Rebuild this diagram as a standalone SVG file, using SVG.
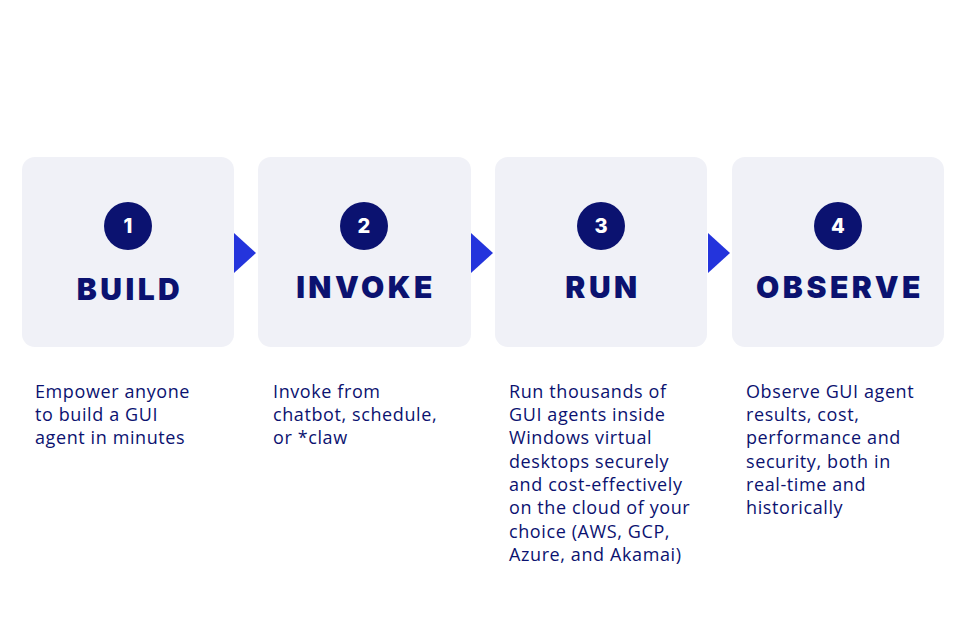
<svg xmlns="http://www.w3.org/2000/svg" width="968" height="643" viewBox="0 0 968 643">
<style>
.box{fill:#f0f1f7}
.num{fill:#0b1270}
.numt{font-family:Inter,"Open Sans",sans-serif;font-weight:800;font-size:20px;fill:#ffffff;text-anchor:middle}
.title{font-family:Inter,"Open Sans",sans-serif;font-weight:900;font-size:30px;fill:#0b1270;text-anchor:middle;letter-spacing:3.5px}
.desc{font-family:"Open Sans","Noto Sans",sans-serif;font-size:18px;fill:#0b1270;letter-spacing:0.6px}
.arrow{fill:#2434dc}
</style>
<rect width="968" height="643" fill="#ffffff"/>
<g id="connectors">
<polygon class="arrow" points="234,233 256,253 234,273"/>
<polygon class="arrow" points="471,233 493,253 471,273"/>
<polygon class="arrow" points="708,233 730,253 708,273"/>
</g>
<g id="build">
<rect class="box" x="22" y="157" width="212" height="190" rx="13"/>
<circle class="num" cx="128" cy="226" r="24"/>
<text class="numt" x="128" y="233">1</text>
<text class="title" x="130" y="300">BUILD</text>
<text class="desc"><tspan x="35" y="398">Empower anyone</tspan><tspan x="35" y="421">to build a GUI</tspan><tspan x="35" y="444">agent in minutes</tspan></text>
</g>
<g id="invoke">
<rect class="box" x="258" y="157" width="213" height="190" rx="13"/>
<circle class="num" cx="364" cy="226" r="24"/>
<text class="numt" x="364" y="233">2</text>
<text class="title" x="366" y="298">INVOKE</text>
<text class="desc"><tspan x="273" y="398">Invoke from</tspan><tspan x="273" y="421">chatbot, schedule,</tspan><tspan x="273" y="444">or *claw</tspan></text>
</g>
<g id="run">
<rect class="box" x="495" y="157" width="212" height="190" rx="13"/>
<circle class="num" cx="601" cy="226" r="24"/>
<text class="numt" x="601" y="233">3</text>
<text class="title" x="603" y="298">RUN</text>
<text class="desc"><tspan x="509" y="398">Run thousands of</tspan><tspan x="509" y="421">GUI agents inside</tspan><tspan x="509" y="444">Windows virtual</tspan><tspan x="509" y="468">desktops securely</tspan><tspan x="509" y="491">and cost-effectively</tspan><tspan x="509" y="514">on the cloud of your</tspan><tspan x="509" y="538">choice (AWS, GCP,</tspan><tspan x="509" y="561">Azure, and Akamai)</tspan></text>
</g>
<g id="observe">
<rect class="box" x="732" y="157" width="212" height="190" rx="13"/>
<circle class="num" cx="838" cy="226" r="24"/>
<text class="numt" x="838" y="233">4</text>
<text class="title" x="840" y="298">OBSERVE</text>
<text class="desc"><tspan x="746" y="398">Observe GUI agent</tspan><tspan x="746" y="421">results, cost,</tspan><tspan x="746" y="444">performance and</tspan><tspan x="746" y="468">security, both in</tspan><tspan x="746" y="491">real-time and</tspan><tspan x="746" y="514">historically</tspan></text>
</g>
</svg>
